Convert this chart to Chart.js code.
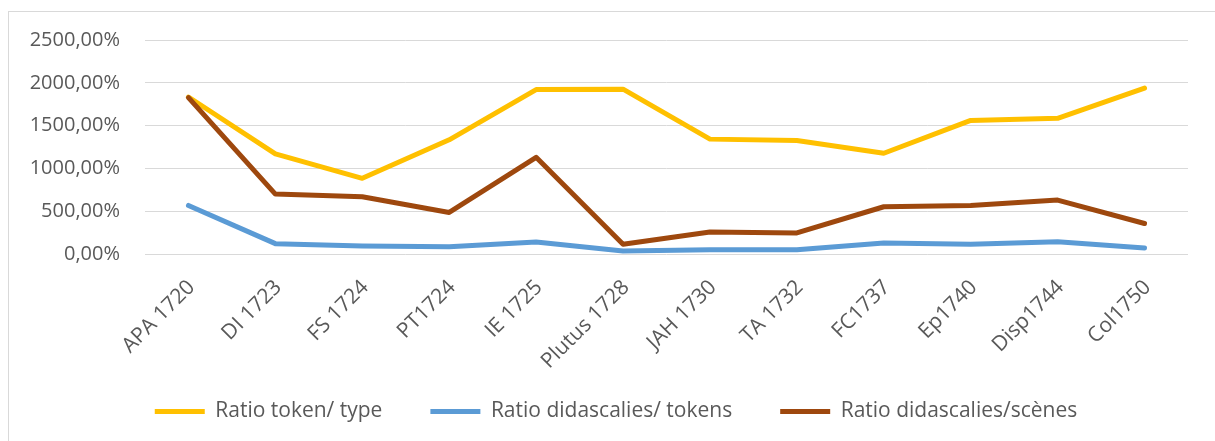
<!DOCTYPE html>
<html>
<head>
<meta charset="utf-8">
<script src="https://cdn.jsdelivr.net/npm/chart.js@4"></script>
<style>
    html, body { margin: 0; padding: 0; background: #fff; overflow: hidden; }
    #frame {
        position: absolute; left: 8px; top: 11px; width: 1230px; height: 460px;
        border: 1px solid #d9d9d9; box-sizing: border-box;
    }
    #wrap { position: absolute; left: 0; top: 0; width: 1215px; height: 441px; }
</style>
</head>
<body>
<div id="frame"></div>
<div id="wrap"><canvas id="ratios"></canvas></div>
<script>
const plays = ['APA 1720', 'DI 1723', 'FS 1724', 'PT1724', 'IE 1725', 'Plutus 1728',
    'JAH 1730', 'TA 1732', 'FC1737', 'Ep1740', 'Disp1744', 'Col1750'];

// valeurs en %
const tokenType = [1834, 1170, 884, 1334, 1921, 1926, 1342, 1326, 1177, 1561, 1585, 1937];
const didascTokens = [567, 121, 94, 86, 141, 35, 50, 50, 129, 114, 144, 70];
const didascScenes = [1827, 700, 669, 485, 1130, 114, 258, 246, 552, 567, 630, 356];

const yTicks = [0, 500, 1000, 1500, 2000, 2500];

const textColor = '#595959';
const fontFamily = '"Open Sans", "Liberation Sans", sans-serif';

function formatPercent(value) {
    return value.toFixed(2).replace('.', ',') + '%';
}

function lineDataset(label, data, color, order) {
    return {
        label: label,
        data: data,
        borderColor: color,
        backgroundColor: color,
        borderWidth: 5,
        borderCapStyle: 'round',
        borderJoinStyle: 'round',
        pointRadius: 0,
        tension: 0,
        order: order,
    };
}

// les étiquettes débordent de leur boîte d'axe : on élargit la zone de découpe
const labelRoom = {
    id: 'labelRoom',
    afterLayout(chart) {
        chart.scales.y.left = 0;
        chart.scales.x.bottom = chart.height;
    },
};

new Chart(document.getElementById('ratios'), {
    type: 'line',
    data: {
        labels: plays,
        datasets: [
            lineDataset('Ratio token/ type', tokenType, '#ffc000', 1),
            lineDataset('Ratio didascalies/ tokens', didascTokens, '#5b9bd5', 2),
            lineDataset('Ratio didascalies/scènes', didascScenes, '#9e480e', 0),
        ],
    },
    plugins: [labelRoom],
    options: {
        responsive: true,
        maintainAspectRatio: false,
        animation: false,
        layout: { padding: { left: 44, right: 27, top: 40, bottom: 9 } },
        plugins: {
            tooltip: { enabled: false },
            legend: {
                position: 'bottom',
                labels: {
                    usePointStyle: true,
                    pointStyle: 'line',
                    pointStyleWidth: 50,
                    color: textColor,
                    padding: 48,
                    font: { family: fontFamily, size: 21 },
                    sort: (a, b) => a.datasetIndex - b.datasetIndex,
                },
            },
        },
        scales: {
            x: {
                offset: true,
                grid: { display: false },
                border: { display: false },
                ticks: {
                    color: textColor,
                    font: { family: fontFamily, size: 21 },
                    maxRotation: 45,
                    minRotation: 45,
                    labelOffset: 3,
                    padding: 13,
                },
                afterFit: (scale) => { scale.height = 99; },
            },
            y: {
                min: 0,
                max: 2500,
                afterBuildTicks: (scale) => {
                    scale.ticks = yTicks.map((v) => ({ value: v }));
                },
                grid: { color: '#d9d9d9', lineWidth: 1, drawTicks: false },
                border: { display: false },
                ticks: {
                    color: textColor,
                    font: { family: fontFamily, size: 20 },
                    padding: 25,
                    callback: (value) => formatPercent(value),
                },
                afterFit: (scale) => { scale.width = 101; },
            },
        },
    },
});
</script>
</body>
</html>
